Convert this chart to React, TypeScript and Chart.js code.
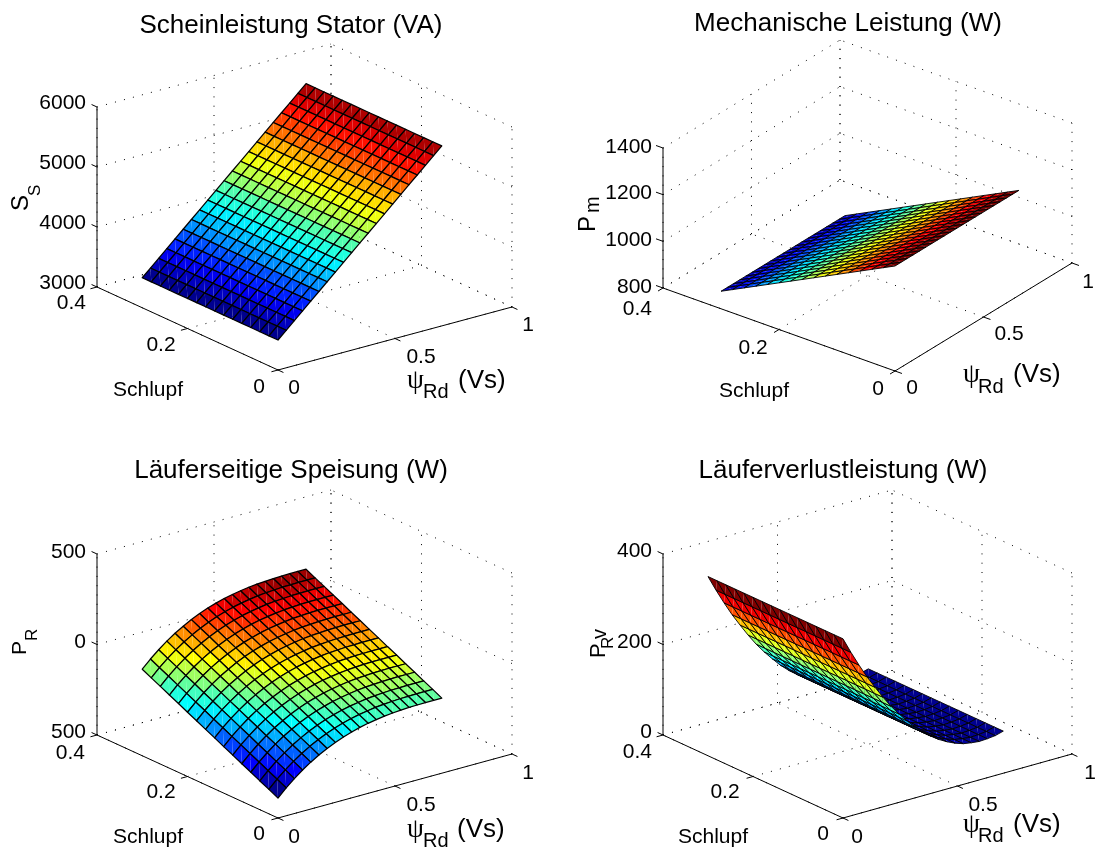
import React, { useEffect, useRef } from "react";
import { Chart, registerables } from "chart.js";

Chart.register(...registerables);

const psiGrid = [0, 0.035, 0.07, 0.105, 0.14, 0.175, 0.21, 0.245, 0.28, 0.315, 0.35, 0.385, 0.42, 0.455, 0.49, 0.525, 0.56, 0.595, 0.63, 0.665, 0.7];
const slipGrid = [0, 0.02, 0.04, 0.06, 0.08, 0.1, 0.12, 0.14, 0.16, 0.18, 0.2, 0.22, 0.24, 0.26, 0.28, 0.3];

const statorApparent = [3500, 3625, 3750, 3875, 4000, 4125, 4250, 4375, 4500, 4625, 4750, 4875, 5000, 5125, 5250, 5375, 5500, 5625, 5750, 5875, 6000];
const mechanicalPower = [1250, 1225, 1200, 1175, 1150, 1125, 1100, 1075, 1050, 1025, 1000, 975, 950, 925, 900, 875];
const rotorLoss = [396, 361, 328, 297, 269, 242, 217, 195, 175, 156, 140, 126, 114, 104, 96, 90, 87, 85, 86, 88, 93];
const rotorFeed = [
  [-390, -365, -341, -316, -292, -267, -243, -218, -194, -169, -145, -120, -96, -71, -47, -22],
  [-346, -321, -297, -272, -248, -223, -199, -174, -150, -125, -101, -76, -52, -27, -3, 22],
  [-307, -282, -258, -233, -209, -184, -160, -135, -111, -86, -62, -37, -13, 12, 36, 61],
  [-272, -247, -223, -198, -174, -149, -125, -100, -76, -51, -27, -2, 22, 47, 71, 96],
  [-241, -216, -192, -167, -143, -118, -94, -69, -45, -20, 4, 29, 53, 78, 102, 127],
  [-214, -189, -165, -140, -116, -91, -67, -42, -18, 7, 31, 56, 80, 105, 129, 154],
  [-190, -165, -141, -116, -92, -67, -43, -18, 6, 31, 55, 80, 104, 129, 153, 178],
  [-169, -144, -120, -95, -71, -46, -22, 3, 27, 52, 76, 101, 125, 150, 174, 199],
  [-151, -126, -102, -77, -53, -28, -4, 21, 45, 70, 94, 119, 143, 168, 192, 217],
  [-136, -111, -87, -62, -38, -13, 11, 36, 60, 85, 109, 134, 158, 183, 207, 232],
  [-123, -98, -74, -49, -25, 0, 24, 49, 73, 98, 122, 147, 171, 196, 220, 245],
  [-113, -88, -64, -39, -15, 10, 34, 59, 83, 108, 132, 157, 181, 206, 230, 255],
  [-105, -80, -56, -31, -7, 18, 42, 67, 91, 116, 140, 165, 189, 214, 238, 263],
  [-98, -73, -49, -24, 0, 25, 49, 74, 98, 123, 147, 172, 196, 221, 245, 270],
  [-93, -68, -44, -19, 5, 30, 54, 79, 103, 128, 152, 177, 201, 226, 250, 275],
  [-90, -65, -41, -16, 8, 33, 57, 82, 106, 131, 155, 180, 204, 229, 253, 278],
  [-87, -62, -38, -13, 11, 36, 60, 85, 109, 134, 158, 183, 207, 232, 256, 281],
  [-86, -61, -37, -12, 12, 37, 61, 86, 110, 135, 159, 184, 208, 233, 257, 282],
  [-85, -60, -36, -11, 13, 38, 62, 87, 111, 136, 160, 185, 209, 234, 258, 283],
  [-85, -60, -36, -11, 13, 38, 62, 87, 111, 136, 160, 185, 209, 234, 258, 283],
  [-85, -60, -36, -11, 13, 38, 62, 87, 111, 136, 160, 185, 209, 234, 258, 283],
];

const psiTicks = [0, 0.5, 1];
const slipTicks = [0, 0.2, 0.4];
const psiTickLabels = ["0", "0.5", "1"];
const slipTickLabels = ["0", "0.2", "0.4"];
const zTicksS = [3000, 4000, 5000, 6000];
const zTicksM = [800, 1000, 1200, 1400];
const zTicksF = [-500, 0, 500];
const zTicksL = [0, 200, 400];
const zLabelsS = ["3000", "4000", "5000", "6000"];
const zLabelsM = ["800", "1000", "1200", "1400"];
const zLabelsF = ["500", "0", "500"];
const zLabelsL = ["0", "200", "400"];

const FONT = '"Liberation Sans", Arial, sans-serif';

type Pt = [number, number];
type Panel = {
  title: string; left: number; top: number; w: number; h: number; pad: number; mesh: number;
  O: Pt; A: Pt; B: Pt; zH: number;
  zTicks: number[]; zLabels: string[];
  z: (i: number, j: number) => number;
  zRight: number; zY: number[];
  s4: Pt; s2: Pt; s0: Pt; p0: Pt; p5: Pt; p1: Pt; sl: Pt;
  xl: { psi: number; rd: number; vs: number; base: number; sub: number };
  yl: { x: number; y: number; parts: [string, number, number, number][] };
};

const panels: Panel[] = [
  {
    title: "Scheinleistung Stator (VA)", left: 0, top: 0, w: 582, h: 420, pad: 13.5, mesh: 1.25,
    O: [278, 370], A: [512, 307], B: [97, 287], zH: 180,
    zTicks: zTicksS, zLabels: zLabelsS, z: (i) => statorApparent[i],
    zRight: 86, zY: [283, 223, 163, 103],
    s4: [86, 303], s2: [161, 345], s0: [259, 387], p0: [294, 388], p5: [421, 357], p1: [528, 325], sl: [148, 390],
    xl: { psi: 407, rd: 423, vs: 458, base: 388, sub: 398 },
    yl: { x: 28, y: 211, parts: [["S", 0, 0, 24], ["S", 15, 12, 17]] },
  },
  {
    title: "Mechanische Leistung (W)", left: 570, top: 0, w: 556, h: 420, pad: 12, mesh: 0.9,
    O: [325, 371], A: [502, 263], B: [93, 288], zH: 140,
    zTicks: zTicksM, zLabels: zLabelsM, z: (_i, j) => mechanicalPower[j],
    zRight: 82, zY: [287, 240, 193, 147],
    s4: [82, 309], s2: [183, 348], s0: [308, 389], p0: [342, 388], p5: [439, 334], p1: [518, 282], sl: [184, 391],
    xl: { psi: 393, rd: 408, vs: 443, base: 382, sub: 393 },
    yl: { x: 25, y: 232, parts: [["P", 0, 0, 24], ["m", 19, 3.5, 20]] },
  },
  {
    title: "Läuferseitige Speisung (W)", left: 0, top: 445, w: 582, h: 405, pad: 14, mesh: 1.25,
    O: [278, 373], A: [512, 309], B: [97, 290], zH: 181,
    zTicks: zTicksF, zLabels: zLabelsF, z: (i, j) => rotorFeed[i][j],
    zRight: 86, zY: [287, 197, 107],
    s4: [85, 308], s2: [161, 347], s0: [259, 389], p0: [294, 392], p5: [421, 360], p1: [528, 328], sl: [148, 392],
    xl: { psi: 407, rd: 423, vs: 457, base: 392, sub: 402 },
    yl: { x: 26, y: 210, parts: [["P", 0, 0, 21], ["R", 14, 11, 17]] },
  },
  {
    title: "Läuferverlustleistung (W)", left: 570, top: 445, w: 546, h: 405, pad: 14, mesh: 0.9,
    O: [273, 373], A: [502, 309], B: [93, 290], zH: 181,
    zTicks: zTicksL, zLabels: zLabelsL, z: (i) => rotorLoss[i],
    zRight: 82, zY: [287, 197, 106],
    s4: [82, 307], s2: [155, 347], s0: [253, 389], p0: [287, 392], p5: [413, 360], p1: [520, 328], sl: [143, 392],
    xl: { psi: 393, rd: 408, vs: 443, base: 387, sub: 397 },
    yl: { x: 35, y: 213, parts: [["P", 0, 0, 22], ["R", 9, 8, 17], ["v", 19, 1, 20]] },
  },
];

function jet(t: number): string {
  const k = Math.min(63, Math.max(0, Math.floor(t * 64)));
  const v = (k + 1) / 64;
  const c = (x: number) => Math.round(255 * Math.max(0, Math.min(1, 1.5 - Math.abs(4 * v - x))));
  return `rgb(${c(3)},${c(2)},${c(1)})`;
}

function makeProject(p: Panel) {
  const zMin = p.zTicks[0];
  const zMax = p.zTicks[p.zTicks.length - 1];
  return (psi: number, s: number, z: number) => ({
    x: p.O[0] + psi * (p.A[0] - p.O[0]) + (s / 0.4) * (p.B[0] - p.O[0]),
    y: p.O[1] + psi * (p.A[1] - p.O[1]) + (s / 0.4) * (p.B[1] - p.O[1]) - ((z - zMin) / (zMax - zMin)) * p.zH,
  });
}

const GAP = { x: NaN, y: NaN };

function surfacePlugin(p: Panel) {
  return {
    id: "surface3d",
    afterDatasetsDraw(chart: any) {
      const ctx: CanvasRenderingContext2D = chart.ctx;
      const pts = chart.getDatasetMeta(2).data;
      const ni = psiGrid.length;
      const nj = slipGrid.length;
      const at = (i: number, j: number) => pts[i * nj + j];
      let lo = Infinity;
      let hi = -Infinity;
      for (let i = 0; i < ni; i++) for (let j = 0; j < nj; j++) {
        lo = Math.min(lo, p.z(i, j));
        hi = Math.max(hi, p.z(i, j));
      }
      ctx.save();
      ctx.lineJoin = "round";
      for (let i = ni - 2; i >= 0; i--) {
        for (let j = nj - 2; j >= 0; j--) {
          const a = at(i, j), b = at(i + 1, j), c = at(i + 1, j + 1), d = at(i, j + 1);
          ctx.fillStyle = jet((p.z(i, j) - lo) / (hi - lo));
          ctx.beginPath();
          ctx.moveTo(a.x, a.y); ctx.lineTo(b.x, b.y); ctx.lineTo(c.x, c.y); ctx.closePath(); ctx.fill();
          ctx.beginPath();
          ctx.moveTo(a.x, a.y); ctx.lineTo(c.x, c.y); ctx.lineTo(d.x, d.y); ctx.closePath(); ctx.fill();
          ctx.strokeStyle = "#000";
          ctx.lineWidth = p.mesh;
          ctx.beginPath();
          ctx.moveTo(a.x, a.y); ctx.lineTo(b.x, b.y); ctx.lineTo(c.x, c.y); ctx.lineTo(d.x, d.y); ctx.closePath(); ctx.stroke();
        }
      }
      ctx.restore();
    },
    afterDraw(chart: any) {
      const ctx: CanvasRenderingContext2D = chart.ctx;
      ctx.save();
      ctx.fillStyle = "#000";
      ctx.textBaseline = "middle";
      ctx.font = `21px ${FONT}`;
      ctx.textAlign = "right";
      p.zLabels.forEach((t, k) => ctx.fillText(t, p.zRight, p.zY[k]));
      ctx.fillText(slipTickLabels[2], p.s4[0], p.s4[1]);
      ctx.textAlign = "center";
      ctx.fillText(slipTickLabels[1], p.s2[0], p.s2[1]);
      ctx.fillText(slipTickLabels[0], p.s0[0], p.s0[1]);
      ctx.fillText(psiTickLabels[0], p.p0[0], p.p0[1]);
      ctx.fillText(psiTickLabels[1], p.p5[0], p.p5[1]);
      ctx.fillText(psiTickLabels[2], p.p1[0], p.p1[1]);
      ctx.fillText("Schlupf", p.sl[0], p.sl[1]);
      ctx.textBaseline = "alphabetic";
      ctx.textAlign = "left";
      ctx.font = `27px "Liberation Serif", serif`;
      ctx.fillText("ψ", p.xl.psi, p.xl.base);
      ctx.font = `20px ${FONT}`;
      ctx.fillText("Rd", p.xl.rd, p.xl.sub);
      ctx.font = `26px ${FONT}`;
      ctx.fillText("(Vs)", p.xl.vs, p.xl.base);
      ctx.translate(p.yl.x, p.yl.y);
      ctx.rotate(-Math.PI / 2);
      for (const [t, along, drop, size] of p.yl.parts) {
        ctx.font = `${size}px ${FONT}`;
        ctx.fillText(t, along, drop);
      }
      ctx.restore();
    },
  };
}

function buildGrid(p: Panel) {
  const pr = makeProject(p);
  const zMin = p.zTicks[0];
  const zMax = p.zTicks[p.zTicks.length - 1];
  const out: { x: number; y: number }[] = [];
  const seg = (a: { x: number; y: number }, b: { x: number; y: number }) => out.push(a, b, GAP);
  for (const q of psiTicks) {
    seg(pr(q, 0, zMin), pr(q, 0.4, zMin));
    seg(pr(q, 0.4, zMin), pr(q, 0.4, zMax));
  }
  for (const s of slipTicks) {
    seg(pr(0, s, zMin), pr(1, s, zMin));
    seg(pr(1, s, zMin), pr(1, s, zMax));
  }
  for (const z of p.zTicks) {
    seg(pr(0, 0.4, z), pr(1, 0.4, z));
    seg(pr(1, 0, z), pr(1, 0.4, z));
  }
  return out;
}

function buildAxes(p: Panel) {
  const pr = makeProject(p);
  const zMin = p.zTicks[0];
  const zMax = p.zTicks[p.zTicks.length - 1];
  const out: { x: number; y: number }[] = [];
  const seg = (a: { x: number; y: number }, b: { x: number; y: number }) => out.push(a, b, GAP);
  seg(pr(0, 0, zMin), pr(1, 0, zMin));
  seg(pr(0, 0, zMin), pr(0, 0.4, zMin));
  seg(pr(0, 0.4, zMin), pr(0, 0.4, zMax));
  for (const q of psiTicks) seg(pr(q, 0, zMin), pr(q, -0.012, zMin));
  for (const s of slipTicks) seg(pr(0, s, zMin), pr(-0.028, s, zMin));
  for (const z of p.zTicks) seg(pr(0, 0.4, z), pr(0, 0.412, z));
  return out;
}

function buildSurface(p: Panel) {
  const pr = makeProject(p);
  const out: { x: number; y: number }[] = [];
  psiGrid.forEach((q, i) => slipGrid.forEach((s, j) => out.push(pr(q, s, p.z(i, j)))));
  return out;
}

function PanelChart({ p }: { p: Panel }) {
  const ref = useRef<HTMLCanvasElement>(null);
  useEffect(() => {
    const chart = new Chart(ref.current as HTMLCanvasElement, {
      type: "scatter",
      data: {
        datasets: [
          { label: "Achsen", data: buildAxes(p), showLine: true, borderColor: "#000", borderWidth: 1, pointRadius: 0, spanGaps: false, clip: false },
          { label: "Gitter", data: buildGrid(p), showLine: true, borderColor: "#000", borderWidth: 1, borderDash: [1, 8.3], pointRadius: 0, spanGaps: false, clip: false },
          { label: p.title, data: buildSurface(p), showLine: false, pointRadius: 0, clip: false },
        ],
      } as any,
      options: {
        animation: false,
        responsive: false,
        devicePixelRatio: 1,
        events: [],
        layout: { padding: 0 },
        plugins: {
          legend: { display: false },
          tooltip: { enabled: false },
          title: {
            display: true,
            text: p.title,
            color: "#000",
            font: { family: FONT, size: 26, weight: "normal", lineHeight: 24 / 26 },
            padding: { top: p.pad, bottom: 0 },
          },
        },
        scales: {
          x: { type: "linear", display: false, min: 0, max: p.w },
          y: { type: "linear", display: false, reverse: true, min: p.pad + 24, max: p.h },
        },
      } as any,
      plugins: [surfacePlugin(p)],
    });
    return () => chart.destroy();
  }, [p]);
  return (
    <canvas
      ref={ref}
      width={p.w}
      height={p.h}
      style={{ position: "absolute", left: p.left, top: p.top, width: p.w, height: p.h }}
    />
  );
}

export default function App() {
  return (
    <div style={{ position: "absolute", left: 0, top: 0, width: 1101, height: 850, overflow: "hidden", background: "#fff" }}>
      {panels.map((p) => (
        <PanelChart key={p.title} p={p} />
      ))}
    </div>
  );
}
